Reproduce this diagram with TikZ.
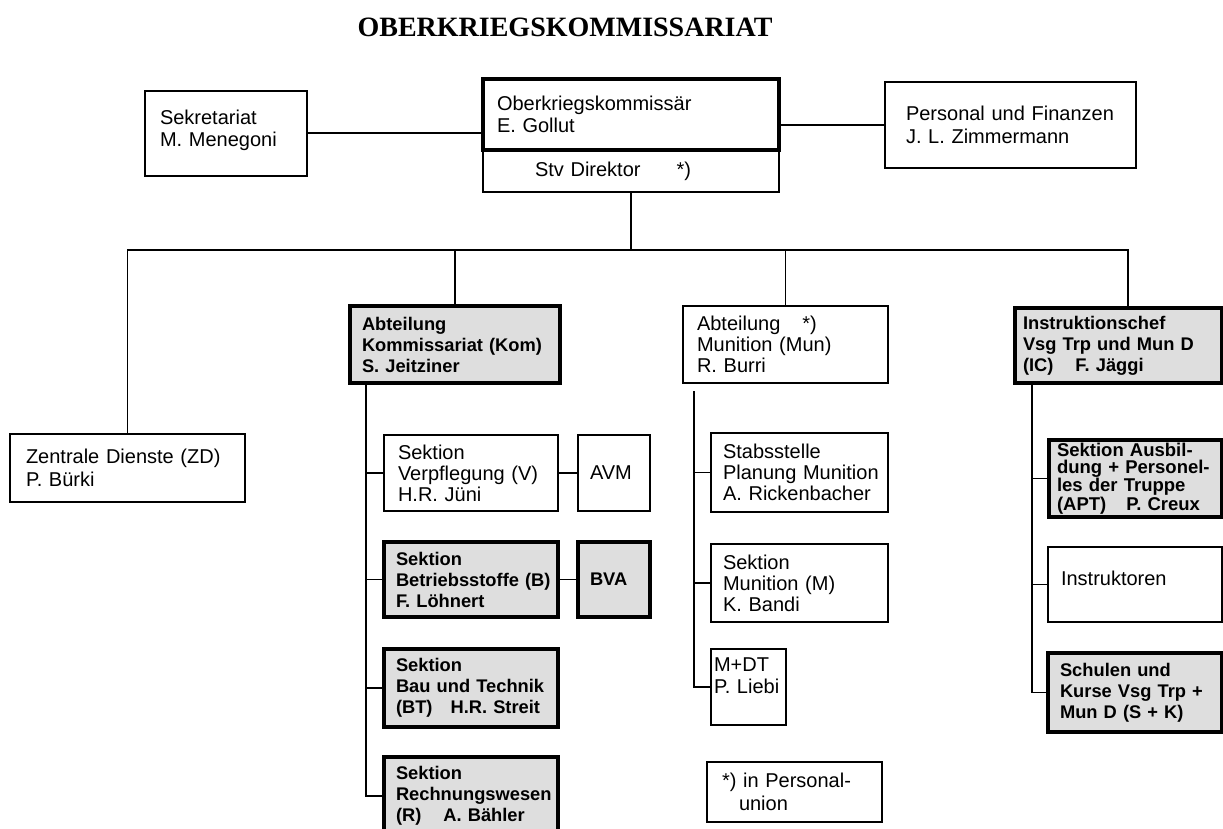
\documentclass[tikz,border=0pt]{standalone}
\usepackage{fontspec}
\setmainfont{Liberation Sans}
\newfontfamily\titlefont{Liberation Serif}
\definecolor{fillg}{RGB}{222,222,222}
\begin{document}
\begin{tikzpicture}[x=1pt,y=-1pt,
  every node/.style={outer sep=0pt},
  box/.style={draw, rectangle, anchor=north west, align=left, line width=1.8pt,
    inner ysep=0pt, font=\fontsize{20}{22.5}\selectfont},
  heavy/.style={line width=3.6pt, fill=fillg, font=\bfseries\fontsize{18.3}{21}\selectfont},
  conn/.style={line width=1.2pt}]
\useasboundingbox (0,0) rectangle (1223,829);
\clip (0,0) rectangle (1223,829);

\node[font=\titlefont\bfseries\fontsize{28}{30}\selectfont] (title) at (565,27) {OBERKRIEGSKOMMISSARIAT};

% top level
\node[box, minimum width=296pt, minimum height=42pt, inner xsep=52pt, text width=192pt] (stv) at (483,150) {\mbox{Stv Direktor\hspace{36pt}*)}};
\node[box, line width=4.5pt, minimum width=296pt, minimum height=71pt, inner xsep=14pt, text width=268pt] (okk) at (483,79) {\mbox{Oberkriegskommissär}\\\mbox{E. Gollut}};
\node[box, minimum width=162pt, minimum height=85pt, inner xsep=15pt, text width=132pt] (sek) at (145,91) {\mbox{Sekretariat}\\\mbox{M. Menegoni}\\[-12pt]\mbox{}};
\node[box, minimum width=251pt, minimum height=86pt, inner xsep=21pt, text width=209pt] (pf) at (885,82) {\mbox{Personal und Finanzen}\\\mbox{J. L. Zimmermann}};

\draw[conn] (sek.east |- 0,133) coordinate (s1) -- (okk.west |- s1);
\draw[conn] (okk.east |- 0,125) coordinate (p1) -- (pf.west |- p1);

% second level
\node[box, minimum width=235pt, minimum height=68pt, inner xsep=16pt, text width=203pt] (zd) at (10,434) {\mbox{Zentrale Dienste (ZD)}\\\mbox{P. Bürki}};
\node[box, heavy, minimum width=210pt, minimum height=77pt, inner xsep=12pt, text width=186pt] (kom) at (350,306) {\mbox{Abteilung}\\\mbox{Kommissariat (Kom)}\\\mbox{S. Jeitziner}};
\node[box, font=\fontsize{20}{21}\selectfont, minimum width=205pt, minimum height=77pt, inner xsep=14pt, text width=177pt] (mun) at (683,306) {\mbox{Abteilung\hspace{22pt}*)}\\\mbox{Munition (Mun)}\\\mbox{R. Burri}};
\node[box, heavy, minimum width=207pt, minimum height=75pt, inner xsep=8pt, text width=191pt] (ic) at (1015,308) {\mbox{Instruktionschef}\\\mbox{Vsg Trp und Mun D}\\\mbox{(IC)\hspace{22pt}F. Jäggi}};

\coordinate (busL) at (127.5,250);
\coordinate (busR) at (1128,250);
\draw[conn] (stv.south) -- (stv.south |- busL);
\draw[conn] (zd.north) -- (busL) -- (busR) -- (busR |- ic.north);
\draw[conn] (kom.north) -- (kom.north |- busL);
\draw[conn] (mun.north) -- (mun.north |- busL);

% Kommissariat column
\node[box, font=\fontsize{20}{21}\selectfont, minimum width=174pt, minimum height=76pt, inner xsep=14pt, text width=146pt] (vp) at (384,435) {\mbox{Sektion}\\\mbox{Verpflegung (V)}\\\mbox{H.R. Jüni}};
\node[box, minimum width=72pt, minimum height=76pt, inner xsep=12pt, text width=48pt] (avm) at (578,435) {\mbox{AVM}};
\node[box, heavy, minimum width=174pt, minimum height=75pt, inner xsep=12pt, text width=150pt] (bs) at (384,542) {\mbox{Sektion}\\\mbox{Betriebsstoffe (B)}\\\mbox{F. Löhnert}};
\node[box, heavy, minimum width=72pt, minimum height=75pt, inner xsep=12pt, text width=48pt] (bva) at (578,542) {\mbox{BVA}};
\node[box, heavy, minimum width=174pt, minimum height=78pt, inner xsep=12pt, text width=150pt] (bt) at (384,649) {\mbox{Sektion}\\\mbox{Bau und Technik}\\\mbox{(BT)\hspace{18pt}H.R. Streit}};
\node[box, heavy, minimum width=174pt, minimum height=78pt, inner xsep=12pt, text width=150pt] (rw) at (384,757) {\mbox{Sektion}\\\mbox{Rechnungswesen}\\\mbox{(R)\hspace{22pt}A. Bähler}};

\coordinate (kv) at ([xshift=16pt]kom.south west);
\draw[conn] (kv) |- (rw.west);
\draw[conn] (vp.west) -- (vp.west -| kv);
\draw[conn] (bs.west) -- (bs.west -| kv);
\draw[conn] (bt.west) -- (bt.west -| kv);
\draw[conn] (vp.east) -- (avm.west);
\draw[conn] (bs.east) -- (bva.west);

% Munition column
\node[box, font=\fontsize{20}{21}\selectfont, minimum width=177pt, minimum height=79pt, inner xsep=12pt, text width=153pt] (st) at (711,433) {\mbox{Stabsstelle}\\\mbox{Planung Munition}\\\mbox{A. Rickenbacher}};
\node[box, font=\fontsize{20}{21}\selectfont, minimum width=177pt, minimum height=78pt, inner xsep=12pt, text width=153pt] (sm) at (711,544) {\mbox{Sektion}\\\mbox{Munition (M)}\\\mbox{K. Bandi}};
\node[box, minimum width=75pt, minimum height=76pt, inner xsep=3pt, text width=69pt] (mdt) at (711,649) {\mbox{M+DT}\\\mbox{P. Liebi}\\\mbox{}};
\node[box, minimum width=175pt, minimum height=60pt, inner xsep=15pt, text width=145pt] (pu) at (707,762) {\mbox{*) in Personal-}\\\mbox{\hspace{17pt}union}};

\coordinate (mv) at ([shift={(11,8)}]mun.south west);
\draw[conn] (mv) |- (mdt.west);
\draw[conn] (st.west) -- (st.west -| mv);
\draw[conn] (sm.west) -- (sm.west -| mv);

% Instruktion column
\node[box, heavy, font=\bfseries\fontsize{18.5}{17.2}\selectfont, minimum width=173pt, minimum height=77pt, inner xsep=8pt, text width=157pt] (apt) at (1049,440) {\mbox{Sektion Ausbil-}\\\mbox{dung + Personel-}\\\mbox{les der Truppe}\\\mbox{(APT)\hspace{20pt}P. Creux}};
\node[box, minimum width=174pt, minimum height=75pt, inner xsep=13pt, text width=148pt] (ins) at (1048,547) {\mbox{Instruktoren}\\[-10pt]\mbox{}};
\node[box, heavy, minimum width=174pt, minimum height=79pt, inner xsep=12pt, text width=150pt] (sk) at (1048,653) {\mbox{Schulen und}\\\mbox{Kurse Vsg Trp +}\\\mbox{Mun D (S + K)}};

\coordinate (iv) at ([xshift=17pt]ic.south west);
\draw[conn] (iv) |- (sk.west);
\draw[conn] (apt.west) -- (apt.west -| iv);
\draw[conn] (ins.west) -- (ins.west -| iv);
\end{tikzpicture}
\end{document}
